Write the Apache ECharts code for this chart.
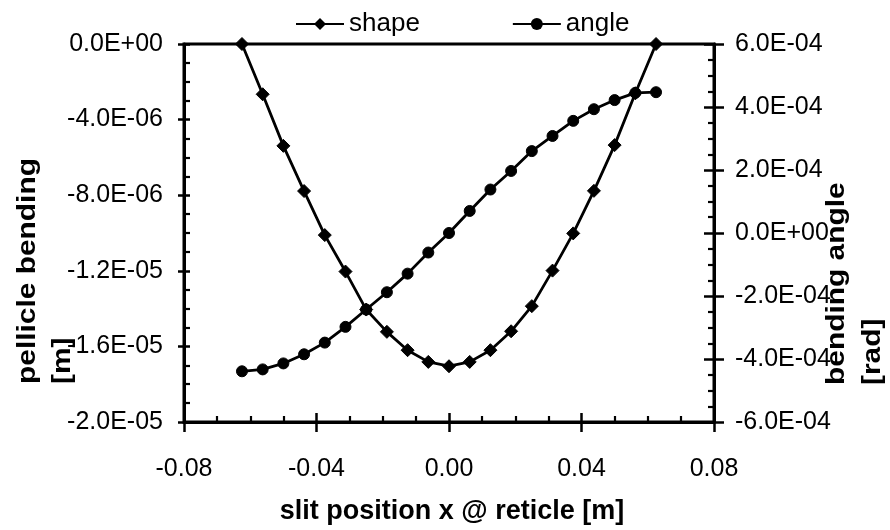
<!DOCTYPE html>
<html>
<head>
<meta charset="utf-8">
<script src="https://cdn.jsdelivr.net/npm/echarts@6/dist/echarts.min.js"></script>
<style>
  html, body { margin: 0; padding: 0; background: #fff; }
  #chart { width: 890px; height: 530px; }
</style>
</head>
<body>
<div id="chart"></div>
<script>
// Slit positions at the reticle [m]
const slitX = [-0.0625, -0.05625, -0.05, -0.04375, -0.0375, -0.03125, -0.025,
  -0.01875, -0.0125, -0.00625, 0, 0.00625, 0.0125, 0.01875, 0.025, 0.03125,
  0.0375, 0.04375, 0.05, 0.05625, 0.0625];

// Pellicle bending shape [m]
const shapeValues = [0, -2.66e-6, -5.39e-6, -7.78e-6, -1.011e-5, -1.204e-5, -1.405e-5,
  -1.523e-5, -1.620e-5, -1.682e-5, -1.705e-5, -1.682e-5, -1.620e-5, -1.520e-5,
  -1.387e-5, -1.199e-5, -1.002e-5, -7.77e-6, -5.35e-6, -2.61e-6, 0];

// Bending angle [rad]
const angleValues = [-4.39e-4, -4.33e-4, -4.14e-4, -3.85e-4, -3.48e-4, -2.98e-4, -2.43e-4,
  -1.88e-4, -1.29e-4, -6.2e-5, 0, 7.0e-5, 1.38e-4, 1.97e-4, 2.60e-4, 3.08e-4,
  3.56e-4, 3.93e-4, 4.22e-4, 4.45e-4, 4.47e-4];

const seriesNames = ['shape', 'angle'];
const xTitle = 'slit position x @ reticle [m]';
const leftTitle = 'pellicle bending\n[m]';
const rightTitle = 'bending angle\n[rad]';

// Scientific notation like 0.0E+00, -4.0E-06
function sci(v) {
  if (Math.abs(v) < 1e-15) return '0.0E+00';
  let e = Math.floor(Math.log10(Math.abs(v)) + 1e-9);
  let m = v / Math.pow(10, e);
  if (Math.abs(Math.round(m * 10) / 10) >= 10) { e += 1; m = v / Math.pow(10, e); }
  const es = (e < 0 ? '-' : '+') + String(Math.abs(e)).padStart(2, '0');
  return m.toFixed(1) + 'E' + es;
}

const FONT = '"Liberation Sans", Arial, sans-serif';
const INK = '#000';
const labelStyle = { color: INK, fontFamily: FONT, fontSize: 25 };

const chart = echarts.init(document.getElementById('chart'), null, { renderer: 'canvas' });

function pairs(values) { return slitX.map((x, i) => [x, values[i]]); }

// Outer axis carries the line, labels and the outward half of the major ticks;
// a twin axis draws the inward half plus the minor ticks.
function outerAxis(tickLen, extra) {
  return Object.assign({
    type: 'value',
    splitLine: { show: false },
    axisLine: { show: true, onZero: false, lineStyle: { color: INK, width: 3 } },
    axisTick: { show: true, inside: false, length: tickLen, lineStyle: { color: INK, width: 2.5 } },
    minorTick: { show: false }
  }, extra);
}
function innerAxis(tickLen, minorLen, extra) {
  return Object.assign({
    type: 'value',
    splitLine: { show: false },
    axisLabel: { show: false },
    axisLine: { show: false, onZero: false },
    axisTick: { show: true, inside: true, length: tickLen, lineStyle: { color: INK, width: 2.5 } },
    minorTick: { show: true, splitNumber: 4, length: minorLen, lineStyle: { color: INK, width: 2.2 } }
  }, extra);
}

const option = {
  backgroundColor: '#fff',
  animation: false,
  textStyle: { fontFamily: FONT },
  legend: {
    data: seriesNames,
    left: 290,
    top: 6,
    itemWidth: 48,
    itemHeight: 15,
    itemGap: 92,
    textStyle: { color: INK, fontFamily: FONT, fontSize: 26 }
  },
  grid: {
    left: 184, right: 176, top: 44, bottom: 108,
    show: true, borderColor: INK, borderWidth: 3, backgroundColor: 'transparent'
  },
  xAxis: [
    outerAxis(10, {
      position: 'bottom', min: -0.08, max: 0.08, interval: 0.04,
      axisLabel: Object.assign({ margin: 35, formatter: v => v.toFixed(2) }, labelStyle)
    }),
    innerAxis(9, 6, { position: 'bottom', min: -0.08, max: 0.08, interval: 0.04 })
  ],
  yAxis: [
    outerAxis(6, {
      position: 'left', min: -2e-5, max: 0, interval: 4e-6,
      axisLabel: Object.assign({ margin: 21, formatter: sci }, labelStyle)
    }),
    innerAxis(6, 6, { position: 'left', offset: 0, min: -2e-5, max: 0, interval: 4e-6 }),
    outerAxis(10, {
      position: 'right', min: -6e-4, max: 6e-4, interval: 2e-4,
      axisLabel: Object.assign({ margin: 21, formatter: sci }, labelStyle)
    }),
    innerAxis(10, 6, { position: 'right', offset: 0, min: -6e-4, max: 6e-4, interval: 2e-4 })
  ],
  series: [
    {
      name: seriesNames[0], type: 'line', xAxisIndex: 0, yAxisIndex: 0,
      data: pairs(shapeValues),
      symbol: 'diamond', symbolSize: 13, showAllSymbol: true,
      lineStyle: { color: INK, width: 2.8 },
      itemStyle: { color: INK, borderColor: INK },
      z: 3
    },
    {
      name: seriesNames[1], type: 'line', xAxisIndex: 0, yAxisIndex: 2,
      data: pairs(angleValues),
      symbol: 'circle', symbolSize: 11, showAllSymbol: true,
      lineStyle: { color: INK, width: 2.8 },
      itemStyle: { color: INK, borderColor: INK },
      z: 3
    }
  ],
  graphic: [
    {
      type: 'text', x: 452, y: 512,
      style: { text: xTitle, fill: INK, font: 'bold 27px ' + FONT,
               align: 'center', verticalAlign: 'middle' }
    },
    {
      type: 'text', x: 10, y: 384, rotation: Math.PI / 2, scaleX: 1.15,
      style: { text: leftTitle, fill: INK, font: 'bold 26px ' + FONT, lineHeight: 35,
               align: 'left', verticalAlign: 'top' }
    },
    {
      type: 'text', x: 819, y: 385, rotation: Math.PI / 2, scaleX: 1.15,
      style: { text: rightTitle, fill: INK, font: 'bold 26px ' + FONT, lineHeight: 36,
               align: 'left', verticalAlign: 'top' }
    }
  ]
};

chart.setOption(option);
</script>
</body>
</html>
